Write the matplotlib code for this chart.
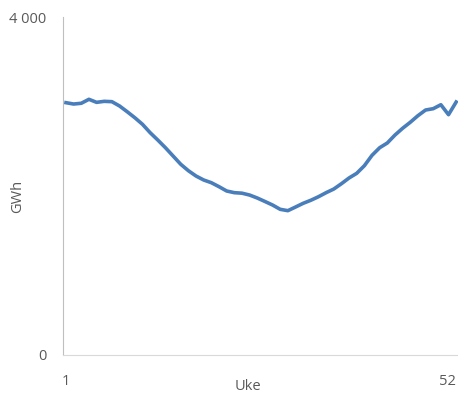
import numpy as np
import matplotlib.pyplot as plt

# Weekly energy values (GWh), week 1..52
weeks = np.arange(1, 53)
gwh = [2986, 2970, 2979, 3026, 2990, 3002, 2998, 2947, 2879, 2808,
       2730, 2631, 2544, 2453, 2355, 2257, 2181, 2118, 2071, 2039,
       1992, 1941, 1921, 1915, 1893, 1858, 1817, 1775, 1724, 1708,
       1751, 1795, 1831, 1873, 1921, 1964, 2027, 2095, 2150, 2240,
       2363, 2453, 2509, 2603, 2683, 2754, 2832, 2899, 2915, 2962,
       2844, 2994]

plt.rcParams['font.family'] = ['Open Sans', 'DejaVu Sans']
text_col = '#595959'

W, H = 458, 396
fig = plt.figure(figsize=(W / 100, H / 100), dpi=100)
ax = fig.add_axes([63 / W, 1 - 355 / H, 395 / W, 338 / H])

ax.plot(weeks, gwh, color='#4A7EBB', lw=2.6, solid_joinstyle='round')

ax.set_xlim(0.61, 52.24)
ax.set_ylim(0, 4000)
ax.set_yticks([0, 4000])
ax.set_yticklabels(['0', '4 000'])
ax.set_xticks([1, 52])
lbls = ax.set_xticklabels(['1', '52'])
lbls[1].set_horizontalalignment('right')

ax.tick_params(length=0, labelsize=10.5, colors=text_col)
ax.tick_params(axis='y', pad=12)
ax.tick_params(axis='x', pad=14)

# axis titles placed in figure pixels
fig.text(18 / W, 1 - 196 / H, 'GWh', rotation=90, ha='center', va='center',
         fontsize=10.5, color=text_col)
fig.text(248 / W, 1 - 386 / H, 'Uke', ha='center', va='center',
         fontsize=10.5, color=text_col)

for s in ['top', 'right']:
    ax.spines[s].set_visible(False)
ax.spines['left'].set_color('#BFBFBF')
ax.spines['bottom'].set_color('#D9D9D9')

fig.savefig('out.png', dpi=100)
